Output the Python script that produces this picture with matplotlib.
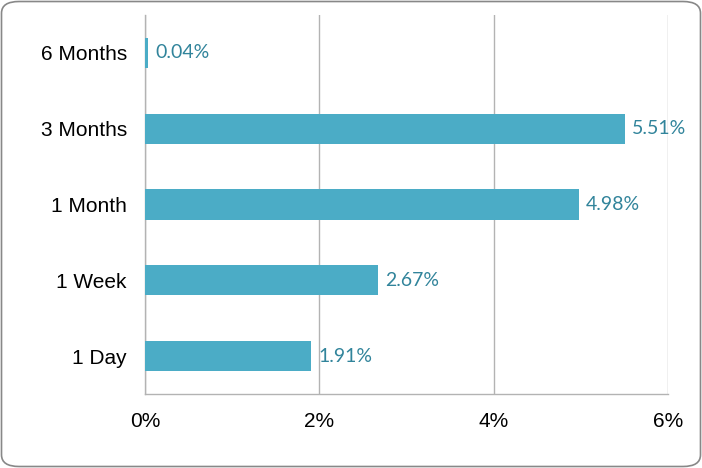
import matplotlib.pyplot as plt
from matplotlib.patches import FancyBboxPatch
from matplotlib.ticker import FuncFormatter

# Dati
periods = ["1 Day", "1 Week", "1 Month", "3 Months", "6 Months"]
returns = [1.91, 2.67, 4.98, 5.51, 0.04]
x_ticks = [0, 2, 4, 6]

bar_color = "#4BACC6"
label_color = "#31849B"
grid_color = "#B3B3B3"

fig = plt.figure(figsize=(7.02, 4.68), dpi=100)
ax = fig.add_axes([145 / 702, 74 / 468, 523 / 702, 379 / 468])

# Bordo arrotondato
border = FancyBboxPatch((1.5 / 702, 1.5 / 468), 699 / 702, 465 / 468,
                        boxstyle="round,pad=0,rounding_size=0.025",
                        transform=fig.transFigure, facecolor="none",
                        edgecolor="#888888", linewidth=1.2)
fig.patches.append(border)

ypos = range(len(periods))
ax.barh(ypos, returns, height=0.4, color=bar_color, zorder=3)

for y, v in zip(ypos, returns):
    ax.text(v + 0.08, y, f"{v:.2f}%", va="center", ha="left",
            color=label_color, fontsize=14, family="Lato", zorder=4)

ax.set_xlim(0, 6)
ax.set_ylim(-0.5, 4.5)
ax.set_xticks(x_ticks)
ax.xaxis.set_major_formatter(FuncFormatter(lambda v, p: f"{v:.0f}%"))
ax.set_yticks(list(ypos))
ax.set_yticklabels(periods)

ax.grid(axis="x", color=grid_color, linewidth=1, zorder=0)
for s in ["top", "right"]:
    ax.spines[s].set_visible(False)
for s in ["left", "bottom"]:
    ax.spines[s].set_color(grid_color)
    ax.spines[s].set_linewidth(1)

ax.tick_params(axis="both", length=0, labelsize=15)
ax.tick_params(axis="x", pad=13)
ax.tick_params(axis="y", pad=13)
for lbl in ax.get_xticklabels() + ax.get_yticklabels():
    lbl.set_family("Liberation Sans")

fig.savefig("out.png", dpi=100)
